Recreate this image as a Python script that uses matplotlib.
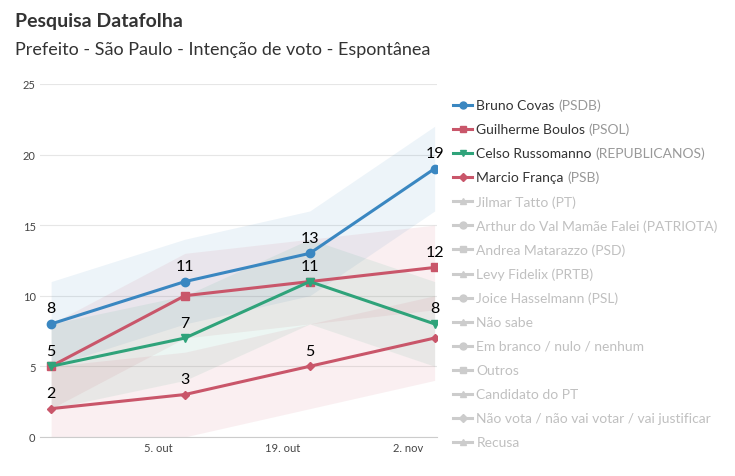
import matplotlib
matplotlib.use("Agg")
import matplotlib.pyplot as plt
import matplotlib.dates as mdates
from matplotlib.lines import Line2D
import numpy as np, datetime as dt

plt.rcParams['font.family'] = ['Lato', 'DejaVu Sans']

dates = [dt.date(2020,9,23), dt.date(2020,10,8), dt.date(2020,10,22), dt.date(2020,11,5)]
covas = [8,11,13,19]
boulos = [5,10,11,12]
russo = [5,7,11,8]
franca = [2,3,5,7]
margin = 3
series = [("Bruno Covas", "(PSDB)", covas, "#3a87c1", "o"),
          ("Guilherme Boulos", "(PSOL)", boulos, "#c9566a", "s"),
          ("Celso Russomanno", "(REPUBLICANOS)", russo, "#2fa37a", "v"),
          ("Marcio França", "(PSB)", franca, "#c9566a", "D")]
others = [("Jilmar Tatto","(PT)","^"),("Arthur do Val Mamãe Falei","(PATRIOTA)","o"),
          ("Andrea Matarazzo","(PSD)","s"),("Levy Fidelix","(PRTB)","^"),
          ("Joice Hasselmann","(PSL)","o"),("Não sabe","","^"),
          ("Em branco / nulo / nenhum","","o"),("Outros","","s"),
          ("Candidato do PT","","^"),("Não vota / não vai votar / vai justificar","","D"),
          ("Recusa","","^")]

fig = plt.figure(figsize=(7.35,4.77), dpi=100)
ax = fig.add_axes([0.055, 0.082, 0.54, 0.74])
x = mdates.date2num(dates)
for name, party, v, c, m in series:
    v = np.array(v)
    ax.fill_between(x, np.clip(v-margin,0,None), v+margin, color=c, alpha=0.09, lw=0)
    ax.plot(x, v, color=c, lw=2.2, marker=m, ms=6 if m!="D" else 4.5)
fs = 11.5
for i in range(4):
    ax.text(x[i], covas[i]+0.6, str(covas[i]), ha="center", va="bottom", fontsize=fs)
for i in range(3):
    ax.text(x[i], franca[i]+0.6, str(franca[i]), ha="center", va="bottom", fontsize=fs)
ax.text(x[0], 5.6, "5", ha="center", va="bottom", fontsize=fs)
ax.text(x[1], 7.6, "7", ha="center", va="bottom", fontsize=fs)
ax.text(x[2], 11.6, "11", ha="center", va="bottom", fontsize=fs)
ax.text(x[3], 12.6, "12", ha="center", va="bottom", fontsize=fs)
ax.text(x[3], 8.6, "8", ha="center", va="bottom", fontsize=fs)

ax.set_ylim(0,25)
ax.set_xlim(x[0]-1.2, x[3]+0.3)
ax.set_yticks([0,5,10,15,20,25])
ax.set_xticks(mdates.date2num([dt.date(2020,10,5),dt.date(2020,10,19),dt.date(2020,11,2)]))
ax.set_xticklabels(["5. out","19. out","2. nov"])
ax.tick_params(labelsize=8, colors="#444", length=0)
ax.grid(axis="y", color="#e6e6e6", lw=0.8)
for s in ["top","right","left"]:
    ax.spines[s].set_visible(False)
ax.spines["bottom"].set_color("#ccc")
ax.set_axisbelow(True)

fig.text(0.02, 0.955, "Pesquisa Datafolha", fontsize=14, fontweight="bold", color="#333", va="center")
fig.text(0.02, 0.895, "Prefeito - São Paulo - Intenção de voto - Espontânea", fontsize=13, color="#333", va="center")

y0 = 0.778; dy = 0.0505
lfs = 10
for i,(name,party,v,c,m) in enumerate(series):
    yy = y0 - i*dy
    fig.lines.append(Line2D([0.617,0.642],[yy,yy], color=c, lw=2.2, transform=fig.transFigure))
    fig.lines.append(Line2D([0.6295],[yy], color=c, marker=m, ms=5 if m!="D" else 4, transform=fig.transFigure))
    t = fig.text(0.648, yy, name+" ", fontsize=lfs, color="#333", va="center")
    fig.canvas.draw()
    bb = t.get_window_extent()
    fig.text(bb.x1/fig.bbox.width, yy, party, fontsize=lfs, color="#999", va="center")
for j,(name,party,m) in enumerate(others):
    yy = y0 - (j+4)*dy
    c = "#cccccc"
    fig.lines.append(Line2D([0.617,0.642],[yy,yy], color=c, lw=2.2, transform=fig.transFigure))
    fig.lines.append(Line2D([0.6295],[yy], color=c, marker=m, ms=5 if m!="D" else 4, transform=fig.transFigure))
    fig.text(0.648, yy, name+(" "+party if party else ""), fontsize=lfs, color="#c0c0c0", va="center")
fig.savefig("out.png", dpi=100)
